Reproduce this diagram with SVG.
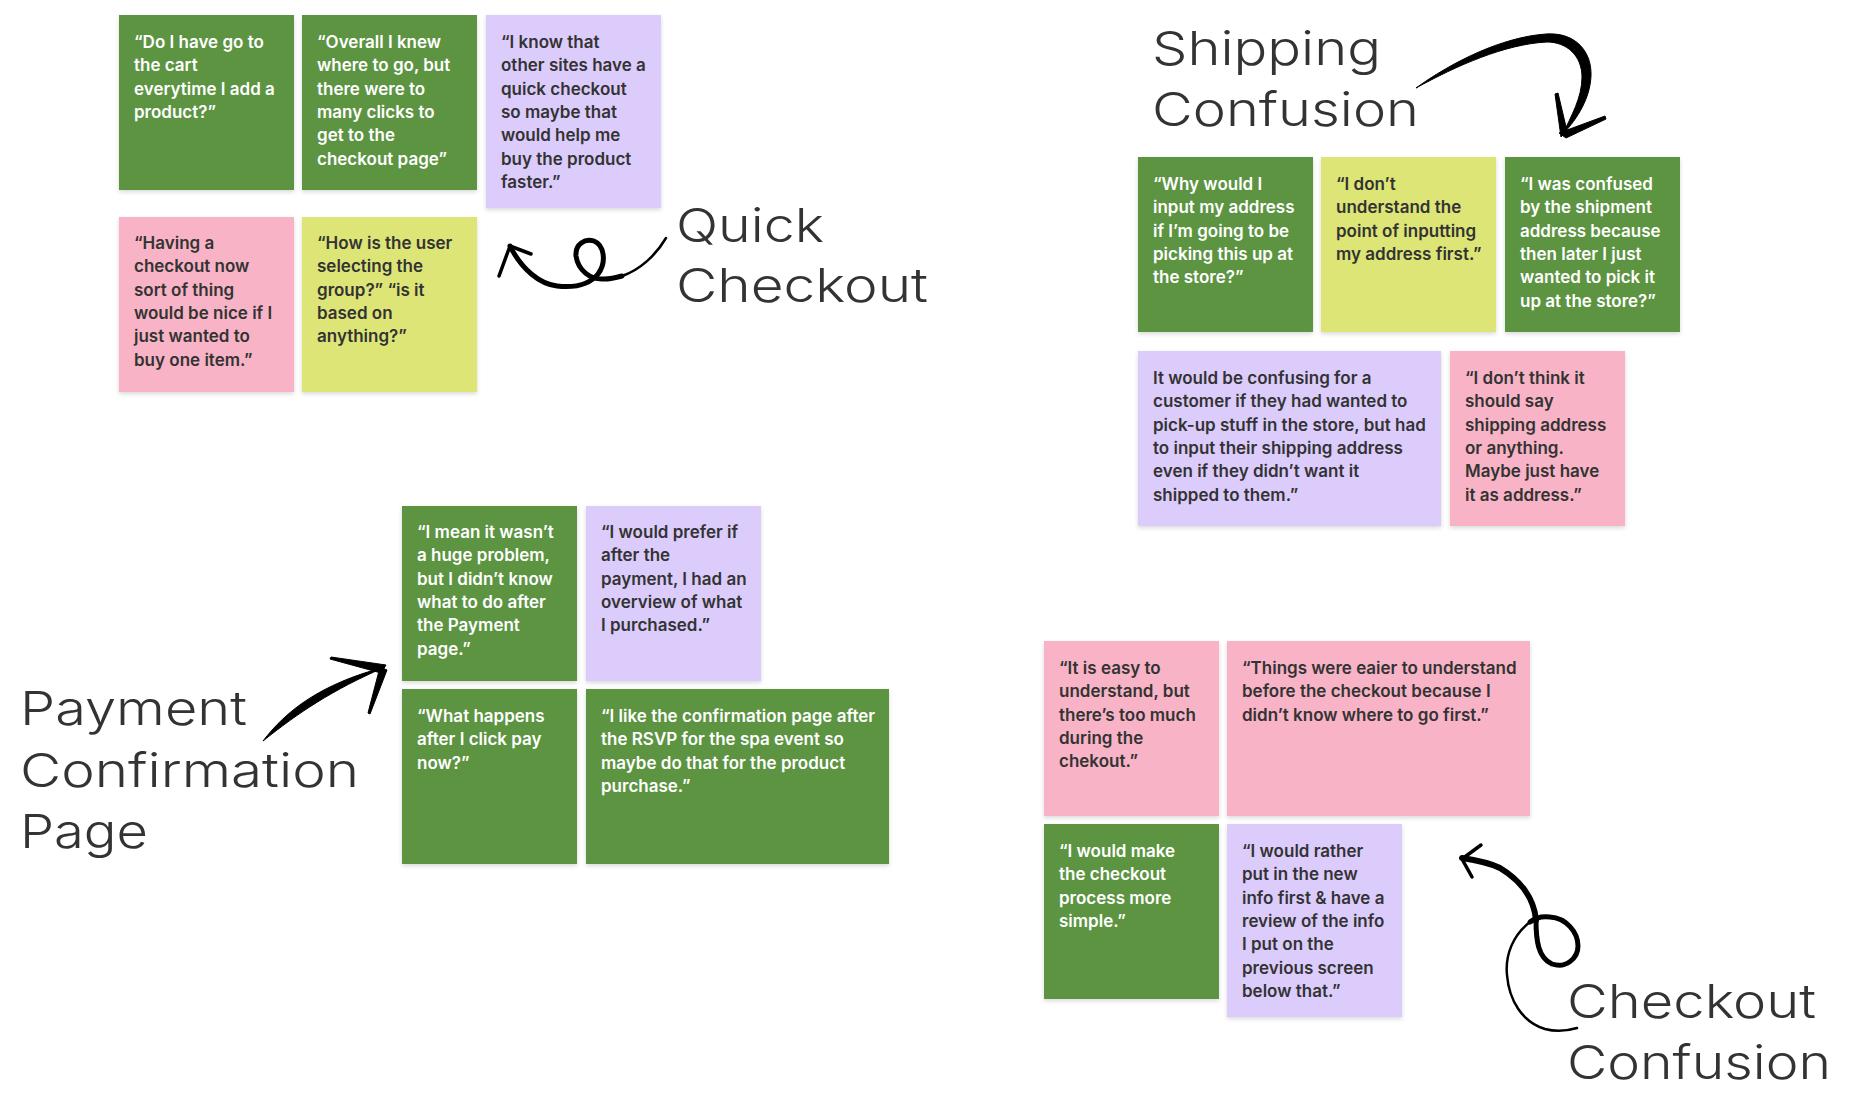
<svg xmlns="http://www.w3.org/2000/svg" width="1872" height="1103" viewBox="0 0 1872 1103">
<defs>
<filter id="sh" x="-10%" y="-10%" width="120%" height="125%">
<feDropShadow dx="0" dy="2" stdDeviation="2" flood-color="#000" flood-opacity="0.15"/>
</filter>
</defs>
<style>
.n{filter:url(#sh)}
.g{fill:#5B9442}.p{fill:#F8B3C6}.l{fill:#DCCCFC}.y{fill:#DDE577}
.t{font-family:Inter,"Liberation Sans",sans-serif;font-size:17px;font-weight:600}
.tw{fill:#ffffff}.td{fill:#333333}
.h{font-family:Inter,"Liberation Sans",sans-serif;font-size:47px;font-weight:300;fill:#333333}
.a{fill:none;stroke:#000;stroke-width:5;stroke-linecap:round;stroke-linejoin:round}
.a3{fill:none;stroke:#000;stroke-width:2.5;stroke-linecap:round;stroke-linejoin:round}
.a6{fill:none;stroke:#000;stroke-width:6;stroke-linecap:round;stroke-linejoin:round}
.ah{fill:none;stroke:#000;stroke-width:3.5;stroke-linecap:round;stroke-linejoin:round}
.af{fill:#000;stroke:#000;stroke-width:1;stroke-linejoin:round}
</style>
<rect width="1872" height="1103" fill="#ffffff"/>

<g id="title-quick"><text class="h" x="676" y="242" textLength="148" lengthAdjust="spacingAndGlyphs">Quick</text><text class="h" x="676" y="302" textLength="252" lengthAdjust="spacingAndGlyphs">Checkout</text></g>
<g id="title-shipping"><text class="h" x="1152" y="65" textLength="229" lengthAdjust="spacingAndGlyphs">Shipping</text><text class="h" x="1152" y="126" textLength="267" lengthAdjust="spacingAndGlyphs">Confusion</text></g>
<g id="title-payment"><text class="h" x="20" y="725" textLength="227" lengthAdjust="spacingAndGlyphs">Payment</text><text class="h" x="20" y="787" textLength="339" lengthAdjust="spacingAndGlyphs">Confirmation</text><text class="h" x="20" y="848" textLength="128" lengthAdjust="spacingAndGlyphs">Page</text></g>
<g id="title-checkout"><text class="h" x="1567" y="1018" textLength="249" lengthAdjust="spacingAndGlyphs">Checkout</text><text class="h" x="1567" y="1079" textLength="264" lengthAdjust="spacingAndGlyphs">Confusion</text></g>

<g id="q1"><rect class="n g" x="119" y="15" width="175" height="175"/><text class="t tw" x="134" y="48"><tspan x="134">“Do I have go to</tspan><tspan x="134" dy="23.3">the cart</tspan><tspan x="134" dy="23.3">everytime I add a</tspan><tspan x="134" dy="23.3">product?”</tspan></text></g>
<g id="q2"><rect class="n g" x="302" y="15" width="175" height="175"/><text class="t tw" x="317" y="48"><tspan x="317">“Overall I knew</tspan><tspan x="317" dy="23.3">where to go, but</tspan><tspan x="317" dy="23.3">there were to</tspan><tspan x="317" dy="23.3">many clicks to</tspan><tspan x="317" dy="23.3">get to the</tspan><tspan x="317" dy="23.3">checkout page”</tspan></text></g>
<g id="q3"><rect class="n l" x="486" y="15" width="175" height="193"/><text class="t td" x="501" y="48"><tspan x="501">“I know that</tspan><tspan x="501" dy="23.3">other sites have a</tspan><tspan x="501" dy="23.3">quick checkout</tspan><tspan x="501" dy="23.3">so maybe that</tspan><tspan x="501" dy="23.3">would help me</tspan><tspan x="501" dy="23.3">buy the product</tspan><tspan x="501" dy="23.3">faster.”</tspan></text></g>
<g id="q4"><rect class="n p" x="119" y="217" width="175" height="175"/><text class="t td" x="134" y="249"><tspan x="134">“Having a</tspan><tspan x="134" dy="23.3">checkout now</tspan><tspan x="134" dy="23.3">sort of thing</tspan><tspan x="134" dy="23.3">would be nice if I</tspan><tspan x="134" dy="23.3">just wanted to</tspan><tspan x="134" dy="23.3">buy one item.”</tspan></text></g>
<g id="q5"><rect class="n y" x="302" y="217" width="175" height="175"/><text class="t td" x="317" y="249"><tspan x="317">“How is the user</tspan><tspan x="317" dy="23.3">selecting the</tspan><tspan x="317" dy="23.3">group?” “is it</tspan><tspan x="317" dy="23.3">based on</tspan><tspan x="317" dy="23.3">anything?”</tspan></text></g>

<g id="s1"><rect class="n g" x="1138" y="157" width="175" height="175"/><text class="t tw" x="1153" y="190"><tspan x="1153">“Why would I</tspan><tspan x="1153" dy="23.3">input my address</tspan><tspan x="1153" dy="23.3">if I’m going to be</tspan><tspan x="1153" dy="23.3">picking this up at</tspan><tspan x="1153" dy="23.3">the store?”</tspan></text></g>
<g id="s2"><rect class="n y" x="1321" y="157" width="175" height="175"/><text class="t td" x="1336" y="190"><tspan x="1336">“I don’t</tspan><tspan x="1336" dy="23.3">understand the</tspan><tspan x="1336" dy="23.3">point of inputting</tspan><tspan x="1336" dy="23.3">my address first.”</tspan></text></g>
<g id="s3"><rect class="n g" x="1505" y="157" width="175" height="175"/><text class="t tw" x="1520" y="190"><tspan x="1520">“I was confused</tspan><tspan x="1520" dy="23.3">by the shipment</tspan><tspan x="1520" dy="23.3">address because</tspan><tspan x="1520" dy="23.3">then later I just</tspan><tspan x="1520" dy="23.3">wanted to pick it</tspan><tspan x="1520" dy="23.3">up at the store?”</tspan></text></g>
<g id="s4"><rect class="n l" x="1138" y="351" width="303" height="175"/><text class="t td" x="1153" y="384"><tspan x="1153">It would be confusing for a</tspan><tspan x="1153" dy="23.3">customer if they had wanted to</tspan><tspan x="1153" dy="23.3">pick-up stuff in the store, but had</tspan><tspan x="1153" dy="23.3">to input their shipping address</tspan><tspan x="1153" dy="23.3">even if they didn’t want it</tspan><tspan x="1153" dy="23.3">shipped to them.”</tspan></text></g>
<g id="s5"><rect class="n p" x="1450" y="351" width="175" height="175"/><text class="t td" x="1465" y="384"><tspan x="1465">“I don’t think it</tspan><tspan x="1465" dy="23.3">should say</tspan><tspan x="1465" dy="23.3">shipping address</tspan><tspan x="1465" dy="23.3">or anything.</tspan><tspan x="1465" dy="23.3">Maybe just have</tspan><tspan x="1465" dy="23.3">it as address.”</tspan></text></g>

<g id="p1"><rect class="n g" x="402" y="506" width="175" height="175"/><text class="t tw" x="417" y="538"><tspan x="417">“I mean it wasn’t</tspan><tspan x="417" dy="23.3">a huge problem,</tspan><tspan x="417" dy="23.3">but I didn’t know</tspan><tspan x="417" dy="23.3">what to do after</tspan><tspan x="417" dy="23.3">the Payment</tspan><tspan x="417" dy="23.3">page.”</tspan></text></g>
<g id="p2"><rect class="n l" x="586" y="506" width="175" height="175"/><text class="t td" x="601" y="538"><tspan x="601">“I would prefer if</tspan><tspan x="601" dy="23.3">after the</tspan><tspan x="601" dy="23.3">payment, I had an</tspan><tspan x="601" dy="23.3">overview of what</tspan><tspan x="601" dy="23.3">I purchased.”</tspan></text></g>
<g id="p3"><rect class="n g" x="402" y="689" width="175" height="175"/><text class="t tw" x="417" y="722"><tspan x="417">“What happens</tspan><tspan x="417" dy="23.3">after I click pay</tspan><tspan x="417" dy="23.3">now?”</tspan></text></g>
<g id="p4"><rect class="n g" x="586" y="689" width="303" height="175"/><text class="t tw" x="601" y="722"><tspan x="601">“I like the confirmation page after</tspan><tspan x="601" dy="23.3">the RSVP for the spa event so</tspan><tspan x="601" dy="23.3">maybe do that for the product</tspan><tspan x="601" dy="23.3">purchase.”</tspan></text></g>

<g id="c1"><rect class="n p" x="1044" y="641" width="175" height="175"/><text class="t td" x="1059" y="674"><tspan x="1059">“It is easy to</tspan><tspan x="1059" dy="23.3">understand, but</tspan><tspan x="1059" dy="23.3">there’s too much</tspan><tspan x="1059" dy="23.3">during the</tspan><tspan x="1059" dy="23.3">chekout.”</tspan></text></g>
<g id="c2"><rect class="n p" x="1227" y="641" width="303" height="175"/><text class="t td" x="1242" y="674"><tspan x="1242">“Things were eaier to understand</tspan><tspan x="1242" dy="23.3">before the checkout because I</tspan><tspan x="1242" dy="23.3">didn’t know where to go first.”</tspan></text></g>
<g id="c3"><rect class="n g" x="1044" y="824" width="175" height="175"/><text class="t tw" x="1059" y="857"><tspan x="1059">“I would make</tspan><tspan x="1059" dy="23.3">the checkout</tspan><tspan x="1059" dy="23.3">process more</tspan><tspan x="1059" dy="23.3">simple.”</tspan></text></g>
<g id="c4"><rect class="n l" x="1227" y="824" width="175" height="193"/><text class="t td" x="1242" y="857"><tspan x="1242">“I would rather</tspan><tspan x="1242" dy="23.3">put in the new</tspan><tspan x="1242" dy="23.3">info first &amp; have a</tspan><tspan x="1242" dy="23.3">review of the info</tspan><tspan x="1242" dy="23.3">I put on the</tspan><tspan x="1242" dy="23.3">previous screen</tspan><tspan x="1242" dy="23.3">below that.”</tspan></text></g>

<g id="connectors">
<!-- quick checkout arrow -->
<path class="a3" d="M666,238 C656,255 640,270 622,276"/>
<path class="a" d="M622,276 C615,278 609,279 604,279 C590,280 578,270 576,256 C575,244 585,238 594,241 C604,245 607,262 598,274 C590,284 575,288 557,286 C540,284 522,270 510,246"/>
<path class="ah" d="M499,276 L510,246 L531,254"/>
<!-- shipping arrow -->
<path class="af" d="M1416,88 C1452,62 1502,37 1546,34 C1576,32 1592,52 1591,76 C1590,98 1578,118 1563,134 C1571,116 1582,98 1582,77 C1582,56 1567,42 1547,42 C1505,44 1456,66 1416,88 Z"/>
<path class="af" d="M1555,94 L1558,93 L1567,131 L1561,137 Z"/>
<path class="af" d="M1559,133 L1605,116 L1606,119 L1566,138 Z"/>
<!-- payment arrow -->
<path class="af" d="M263,741 C286,711 320,684 385,667 C332,690 298,713 263,741 Z"/>
<path class="af" d="M330,659 L331,657 L386,665 L381,673 Z"/>
<path class="af" d="M380,667 L387,670 L370,714 L368,713 Z"/>
<!-- checkout arrow -->
<path class="a6" d="M1462,858 C1475,860 1490,863 1500,868 C1520,880 1534,898 1536,920"/>
<path class="a" d="M1536,920 C1536,940 1538,958 1552,964 C1566,969 1578,958 1578,946 C1578,932 1566,918 1550,917 C1542,916 1535,918 1530,922"/>
<path class="a3" d="M1530,922 C1513,935 1505,955 1507,975 C1509,1000 1522,1022 1545,1029 C1556,1032 1567,1031 1577,1028"/>
<path class="ah" d="M1481,845 L1462,859 L1472,877"/>
</g>
</svg>
